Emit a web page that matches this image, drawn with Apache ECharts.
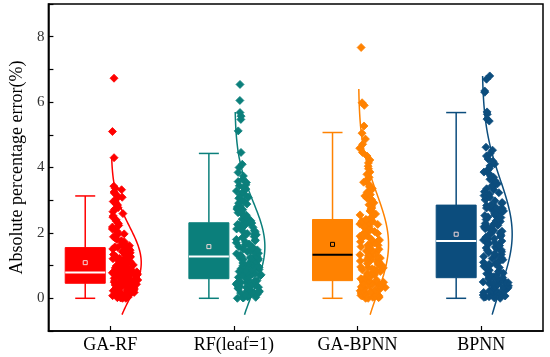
<!DOCTYPE html>
<html><head><meta charset="utf-8">
<script src="https://cdn.jsdelivr.net/npm/echarts@6/dist/echarts.min.js"></script>
<style>html,body{margin:0;padding:0;background:#fff}#c{width:550px;height:357px}</style>
</head><body><div id="c"></div>
<script>
// ---- data ----
const categories = ['GA-RF', 'RF(leaf=1)', 'GA-BPNN', 'BPNN'];
const colors = ['#ff0000', '#0b7f7b', '#ff8201', '#0c4d7d'];
const medianColors = ['#ffffff', '#ffffff', '#000000', '#ffffff'];

// box statistics
const boxMin    = [0.00, 0.00, 0.00, 0.00];
const boxQ1     = [0.46, 0.60, 0.54, 0.63];
const boxMedian = [0.79, 1.28, 1.33, 1.75];
const boxQ3     = [1.55, 2.31, 2.41, 2.85];
const boxMax    = [3.13, 4.43, 5.07, 5.68];
const boxMean   = [1.09, 1.58, 1.65, 1.96];

// normal-curve overlay parameters
const curveMean   = [1.09, 1.58, 1.65, 1.96];
const curveSd     = [1.11, 1.38, 1.56, 1.66];
const curveBottom = [-0.5, -0.5, -0.5, -0.5];
const curveTop    = [4.30, 5.70, 6.40, 6.80];

// individual absolute percentage errors (%)
const gaRfValues = [0.00,0.00,0.01,0.02,0.03,0.03,0.05,0.06,0.06,0.08,0.09,0.10,0.11,0.13,0.14,0.15,0.16,0.18,0.19,0.20,0.22,0.23,0.25,0.26,0.27,0.29,0.31,0.31,0.33,0.35,0.36,0.37,0.39,0.40,0.41,0.43,0.43,0.44,0.45,0.46,
0.47,0.48,0.49,0.50,0.51,0.53,0.53,0.55,0.56,0.57,0.58,0.59,0.60,0.61,0.62,0.63,0.65,0.66,0.66,0.68,0.68,0.70,0.71,0.71,0.72,0.73,0.74,0.75,0.75,0.76,0.77,0.77,0.78,0.78,0.79,0.79,0.80,0.81,0.82,0.83,
0.84,0.86,0.87,0.89,0.90,0.92,0.93,0.95,0.97,0.99,1.01,1.02,1.05,1.07,1.08,1.11,1.13,1.14,1.17,1.19,1.21,1.22,1.25,1.27,1.28,1.31,1.33,1.34,1.36,1.39,1.41,1.42,1.44,1.46,1.47,1.49,1.51,1.52,1.54,1.55,
1.57,1.61,1.63,1.67,1.69,1.73,1.76,1.80,1.85,1.88,1.94,1.97,2.03,2.07,2.12,2.18,2.23,2.29,2.36,2.40,2.48,2.52,2.59,2.65,2.72,2.77,2.85,2.89,2.96,3.04,3.09,3.14,3.21,3.25,3.32,3.36,3.43,4.30,5.10,6.73];

const rfValues = [0.00,0.01,0.02,0.03,0.05,0.06,0.07,0.09,0.10,0.11,0.12,0.14,0.16,0.17,0.18,0.20,0.22,0.23,0.24,0.26,0.28,0.29,0.31,0.33,0.34,0.36,0.37,0.39,0.41,0.43,0.44,0.46,0.48,0.49,0.51,0.53,0.54,0.56,0.58,0.60,
0.62,0.64,0.65,0.67,0.69,0.70,0.72,0.74,0.76,0.77,0.79,0.80,0.82,0.85,0.86,0.88,0.89,0.91,0.94,0.95,0.97,0.98,1.00,1.03,1.04,1.06,1.08,1.09,1.11,1.13,1.14,1.15,1.17,1.19,1.21,1.22,1.23,1.25,1.27,1.28,
1.30,1.32,1.36,1.38,1.41,1.43,1.46,1.48,1.50,1.54,1.56,1.58,1.62,1.64,1.66,1.70,1.72,1.76,1.78,1.80,1.85,1.87,1.89,1.94,1.96,1.98,2.03,2.05,2.07,2.12,2.14,2.17,2.19,2.20,2.23,2.25,2.26,2.28,2.30,2.31,
2.35,2.37,2.42,2.45,2.48,2.54,2.56,2.62,2.65,2.71,2.73,2.79,2.82,2.88,2.91,2.97,3.00,3.06,3.09,3.16,3.18,3.25,3.28,3.34,3.37,3.44,3.47,3.54,3.57,3.64,3.74,3.85,4.00,4.10,4.46,5.12,5.47,5.57,5.68,6.05,6.54];

const gaBpnnValues = [0.00,0.00,0.02,0.03,0.04,0.05,0.07,0.08,0.09,0.11,0.12,0.13,0.15,0.16,0.17,0.19,0.20,0.22,0.23,0.24,0.26,0.28,0.29,0.31,0.32,0.33,0.35,0.37,0.38,0.39,0.41,0.43,0.44,0.45,0.47,0.49,0.50,0.51,0.53,0.54,
0.56,0.59,0.60,0.63,0.64,0.66,0.69,0.70,0.72,0.75,0.76,0.78,0.81,0.82,0.84,0.87,0.88,0.90,0.93,0.94,0.96,0.99,1.00,1.02,1.05,1.06,1.08,1.11,1.12,1.14,1.17,1.18,1.20,1.23,1.24,1.26,1.28,1.30,1.31,1.33,
1.36,1.39,1.41,1.45,1.47,1.50,1.52,1.56,1.58,1.62,1.63,1.67,1.69,1.73,1.75,1.78,1.80,1.84,1.86,1.90,1.92,1.96,1.98,2.02,2.04,2.08,2.10,2.14,2.16,2.20,2.22,2.26,2.27,2.31,2.32,2.35,2.36,2.39,2.40,2.41,
2.46,2.50,2.55,2.58,2.64,2.67,2.73,2.76,2.82,2.86,2.92,2.96,3.02,3.06,3.13,3.17,3.24,3.29,3.36,3.41,3.49,3.55,3.63,3.70,3.79,3.86,3.96,4.04,4.14,4.23,4.35,4.46,4.59,4.71,4.87,5.05,5.27,5.90,5.98,7.67];

const bpnnValues = [0.00,0.01,0.03,0.04,0.05,0.07,0.09,0.10,0.11,0.13,0.15,0.16,0.18,0.19,0.20,0.22,0.24,0.25,0.27,0.28,0.30,0.32,0.33,0.35,0.36,0.38,0.40,0.41,0.43,0.45,0.46,0.48,0.50,0.52,0.53,0.55,0.58,0.59,0.61,0.63,
0.66,0.70,0.71,0.75,0.77,0.81,0.83,0.86,0.88,0.92,0.94,0.98,1.00,1.04,1.06,1.10,1.12,1.16,1.18,1.22,1.24,1.28,1.30,1.34,1.36,1.40,1.42,1.46,1.48,1.52,1.54,1.57,1.61,1.62,1.66,1.67,1.70,1.71,1.74,1.75,
1.78,1.81,1.83,1.87,1.89,1.93,1.95,1.99,2.01,2.05,2.07,2.11,2.13,2.17,2.19,2.23,2.25,2.29,2.31,2.35,2.37,2.41,2.43,2.47,2.49,2.53,2.55,2.59,2.61,2.65,2.67,2.70,2.72,2.75,2.76,2.79,2.80,2.83,2.84,2.85,
2.90,2.93,2.98,3.01,3.06,3.09,3.14,3.18,3.23,3.26,3.32,3.35,3.41,3.44,3.50,3.54,3.60,3.64,3.70,3.74,3.81,3.86,3.93,3.98,4.05,4.11,4.19,4.26,4.35,4.43,4.53,4.62,5.42,5.48,5.63,5.70,6.30,6.34,6.70,6.80];

const groupValues = [gaRfValues, rfValues, gaBpnnValues, bpnnValues];

// ---- layout helpers (pixels) ----
const BOX_SHIFT = -25, BOX_HALF = 20, CAP_HALF = 10;
const PT_BASE = 2, PT_SPREAD = 26, PT_R = 4;
const CURVE_BASE = 1, CURVE_WIDTH = 30;
const SERIF = '"Times New Roman","Liberation Serif","DejaVu Serif",serif';

function pseudo(k, g) { const s = Math.sin((k + 1) * 12.9898 + (g + 1) * 78.233) * 43758.5453; return s - Math.floor(s); }
function kde(vals, v, h) { let s = 0; for (const x of vals) { const d = (v - x) / h; s += Math.exp(-0.5 * d * d); } return s; }

const pointData = [];
groupValues.forEach((vals, g) => {
  const dens = vals.map(v => kde(vals, v, 0.25));
  const mx = Math.max(...dens);
  vals.forEach((v, k) => {
    const off = PT_BASE + pseudo(k, g) * PT_SPREAD * Math.sqrt(dens[k] / mx);
    pointData.push([g, v, off]);
  });
});

const boxData = categories.map((c, i) => [i, boxMin[i], boxQ1[i], boxMedian[i], boxQ3[i], boxMax[i], boxMean[i]]);
const curveData = categories.map((c, i) => [i, curveBottom[i], curveTop[i]]);

const chart = echarts.init(document.getElementById('c'));
chart.setOption({
  animation: false,
  backgroundColor: '#fff',
  grid: { left: 38, right: 7, top: 4, bottom: 26, show: true, borderColor: '#000', borderWidth: 1.5 },
  xAxis: {
    type: 'category', data: categories, boundaryGap: true,
    axisLine: { onZero: false, lineStyle: { color: '#000', width: 1.5 } },
    axisTick: { show: true, inside: true, alignWithLabel: true, length: 5, lineStyle: { color: '#000', width: 1.2 } },
    axisLabel: { fontFamily: SERIF, fontSize: 18, color: '#000', margin: 5 },
    splitLine: { show: false }
  },
  yAxis: {
    type: 'value', min: -1, max: 9, interval: 1,
    name: 'Absolute percentage error(%)', nameLocation: 'middle', nameGap: 14,
    nameTextStyle: { fontFamily: SERIF, fontSize: 18, color: '#000' },
    axisLine: { show: true, onZero: false, lineStyle: { color: '#000', width: 1.5 } },
    axisTick: { show: true, inside: true, length: 5, lineStyle: { color: '#000', width: 1.2 } },
    axisLabel: { fontFamily: SERIF, fontSize: 15, color: '#333', margin: 4,
      formatter: v => (v >= 0 && v <= 8 && v % 2 === 0) ? String(v) : '' },
    splitLine: { show: false }
  },
  series: [
    {
      type: 'custom', name: 'box', data: boxData, encode: { x: 0, y: [1, 2, 3, 4, 5, 6] },
      renderItem: function (params, api) {
        const i = api.value(0);
        const cx = api.coord([i, 0])[0] + BOX_SHIFT;
        const y = k => api.coord([i, api.value(k)])[1];
        const yMin = y(1), yQ1 = y(2), yMed = y(3), yQ3 = y(4), yMax = y(5), yMean = y(6);
        const col = colors[i];
        const ls = { stroke: col, lineWidth: 1.5, fill: null };
        return { type: 'group', children: [
          { type: 'line', shape: { x1: cx, y1: yQ3, x2: cx, y2: yMax }, style: ls },
          { type: 'line', shape: { x1: cx, y1: yQ1, x2: cx, y2: yMin }, style: ls },
          { type: 'line', shape: { x1: cx - CAP_HALF, y1: yMax, x2: cx + CAP_HALF, y2: yMax }, style: ls },
          { type: 'line', shape: { x1: cx - CAP_HALF, y1: yMin, x2: cx + CAP_HALF, y2: yMin }, style: ls },
          { type: 'rect', shape: { x: cx - BOX_HALF, y: yQ3, width: 2 * BOX_HALF, height: yQ1 - yQ3 }, style: { fill: col, stroke: col, lineWidth: 1 } },
          { type: 'line', shape: { x1: cx - BOX_HALF, y1: yMed, x2: cx + BOX_HALF, y2: yMed }, style: { stroke: medianColors[i], lineWidth: 2 } },
          { type: 'rect', shape: { x: cx - 2, y: yMean - 2, width: 4, height: 4 }, style: { fill: null, stroke: medianColors[i] === '#000000' ? '#000' : '#f4d8d8', lineWidth: 1 } }
        ] };
      }
    },
    {
      type: 'custom', name: 'points', data: pointData, encode: { x: 0, y: 1 },
      renderItem: function (params, api) {
        const g = api.value(0);
        const p = api.coord([g, api.value(1)]);
        const x = p[0] + api.value(2), yy = p[1];
        return { type: 'polygon', shape: { points: [[x, yy - PT_R], [x + PT_R, yy], [x, yy + PT_R], [x - PT_R, yy]] },
          style: { fill: colors[g], stroke: colors[g], lineWidth: 0.8 } };
      }
    },
    {
      type: 'custom', name: 'curve', data: curveData, encode: { x: 0, y: [1, 2] },
      renderItem: function (params, api) {
        const i = api.value(0);
        const lo = api.value(1), hi = api.value(2);
        const pts = [];
        const n = 120;
        for (let k = 0; k <= n; k++) {
          const v = lo + (hi - lo) * k / n;
          const p = api.coord([i, v]);
          const d = (v - curveMean[i]) / curveSd[i];
          pts.push([p[0] + CURVE_BASE + CURVE_WIDTH * Math.exp(-0.5 * d * d), p[1]]);
        }
        return { type: 'polyline', shape: { points: pts }, style: { stroke: colors[i], lineWidth: 1.5, fill: null } };
      }
    }
  ]
});
</script>
</body></html>
